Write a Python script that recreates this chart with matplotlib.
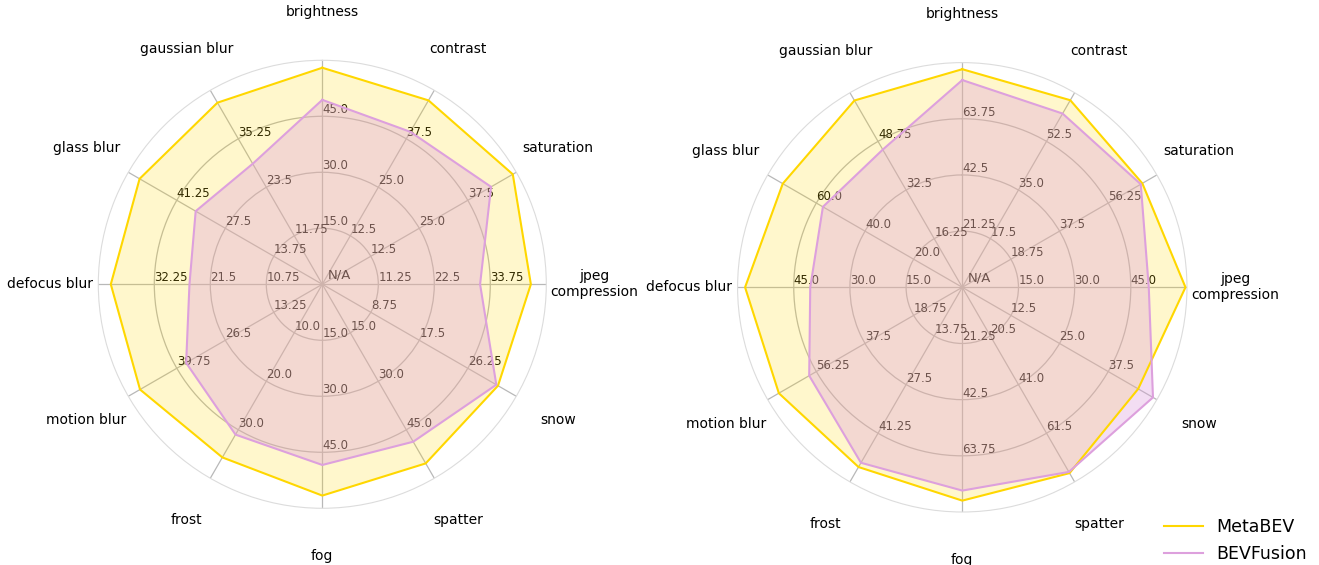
import numpy as np
import matplotlib.pyplot as plt
from matplotlib.lines import Line2D

# axes of both radars (clockwise from the top)
categories = ['brightness', 'contrast', 'saturation', 'jpeg\ncompression', 'snow', 'spatter',
              'fog', 'frost', 'motion blur', 'defocus blur', 'glass blur', 'gaussian blur']

# left radar: value of the outer ring per axis, then the two series
left_max = [60, 50, 50, 45, 35, 60, 60, 40, 53, 43, 55, 47]
left_metabev = [58.0, 47.4, 49.1, 41.9, 31.7, 55.4, 56.6, 35.7, 49.8, 40.6, 51.8, 44.0]
left_bevfusion = [49.4, 39.3, 43.5, 31.7, 31.4, 48.7, 48.4, 31.0, 37.2, 25.5, 35.9, 29.2]

# right radar
right_max = [85, 70, 75, 60, 50, 82, 85, 55, 75, 60, 80, 65]
right_metabev = [82.5, 67.3, 69.4, 59.6, 45.2, 78.3, 80.7, 50.8, 70.7, 58.0, 73.8, 62.4]
right_bevfusion = [78.4, 62.5, 68.8, 49.8, 49.0, 77.8, 76.9, 49.6, 59.0, 40.6, 57.3, 46.0]

series_names = ['MetaBEV', 'BEVFusion']
colors = ['#FFD700', '#DDA0DD']
alphas = [0.2, 0.35]
n_rings = 4

angles = np.linspace(0, 2*np.pi, len(categories), endpoint=False)


def radar(ax, maxes, metabev, bevfusion):
    ax.set_theta_zero_location('N')
    ax.set_theta_direction(-1)
    ax.set_ylim(0, n_rings)
    ax.set_axisbelow(True)
    ax.set_xticks(angles)
    ax.set_xticklabels([])
    ax.set_yticks(range(1, n_rings))
    ax.set_yticklabels([])
    ax.grid(True, color='#b8b8b8', lw=0.9)
    ax.spines['polar'].set_color('#dcdcdc')
    ax.tick_params(length=0)

    # per-axis ring labels, drawn under the fills
    for a, m in zip(angles, maxes):
        step = m / n_rings
        for k in range(1, n_rings):
            ax.text(a, k, f'{round(step*k, 2)}', ha='left', va='bottom',
                    fontsize=8.5, color='black', zorder=1)
    ax.annotate('N/A', xy=(0, 0), xytext=(4, 2), textcoords='offset points',
                ha='left', va='bottom', fontsize=9.5, color='black', zorder=1)

    for a, lab in zip(angles, categories):
        ax.text(a, 4.86, lab, ha='center', va='center', fontsize=10,
                multialignment='center', clip_on=False)

    for vals, c, al in zip([metabev, bevfusion], colors, alphas):
        r = np.array(vals) / (np.array(maxes) / n_rings)
        th = np.append(angles, angles[0])
        r = np.append(r, r[0])
        ax.fill(th, r, color=c, alpha=al, lw=0, zorder=2)
        ax.plot(th, r, color=c, lw=1.5, zorder=3)


fig = plt.figure(figsize=(13.19, 5.65), dpi=100)
ax1 = fig.add_axes([0.0745, 0.1004, 0.3397, 0.7929], projection='polar')
ax2 = fig.add_axes([0.5592, 0.0938, 0.3407, 0.7954], projection='polar')
radar(ax1, left_max, left_metabev, left_bevfusion)
radar(ax2, right_max, right_metabev, right_bevfusion)

handles = [Line2D([], [], color=c, lw=1.5, label=n) for c, n in zip(colors, series_names)]
fig.legend(handles=handles, loc='upper left', bbox_to_anchor=(0.871, 0.111),
           frameon=False, fontsize=12.5, handlelength=2.2, handletextpad=0.8)

fig.savefig('out.png', dpi=100)
